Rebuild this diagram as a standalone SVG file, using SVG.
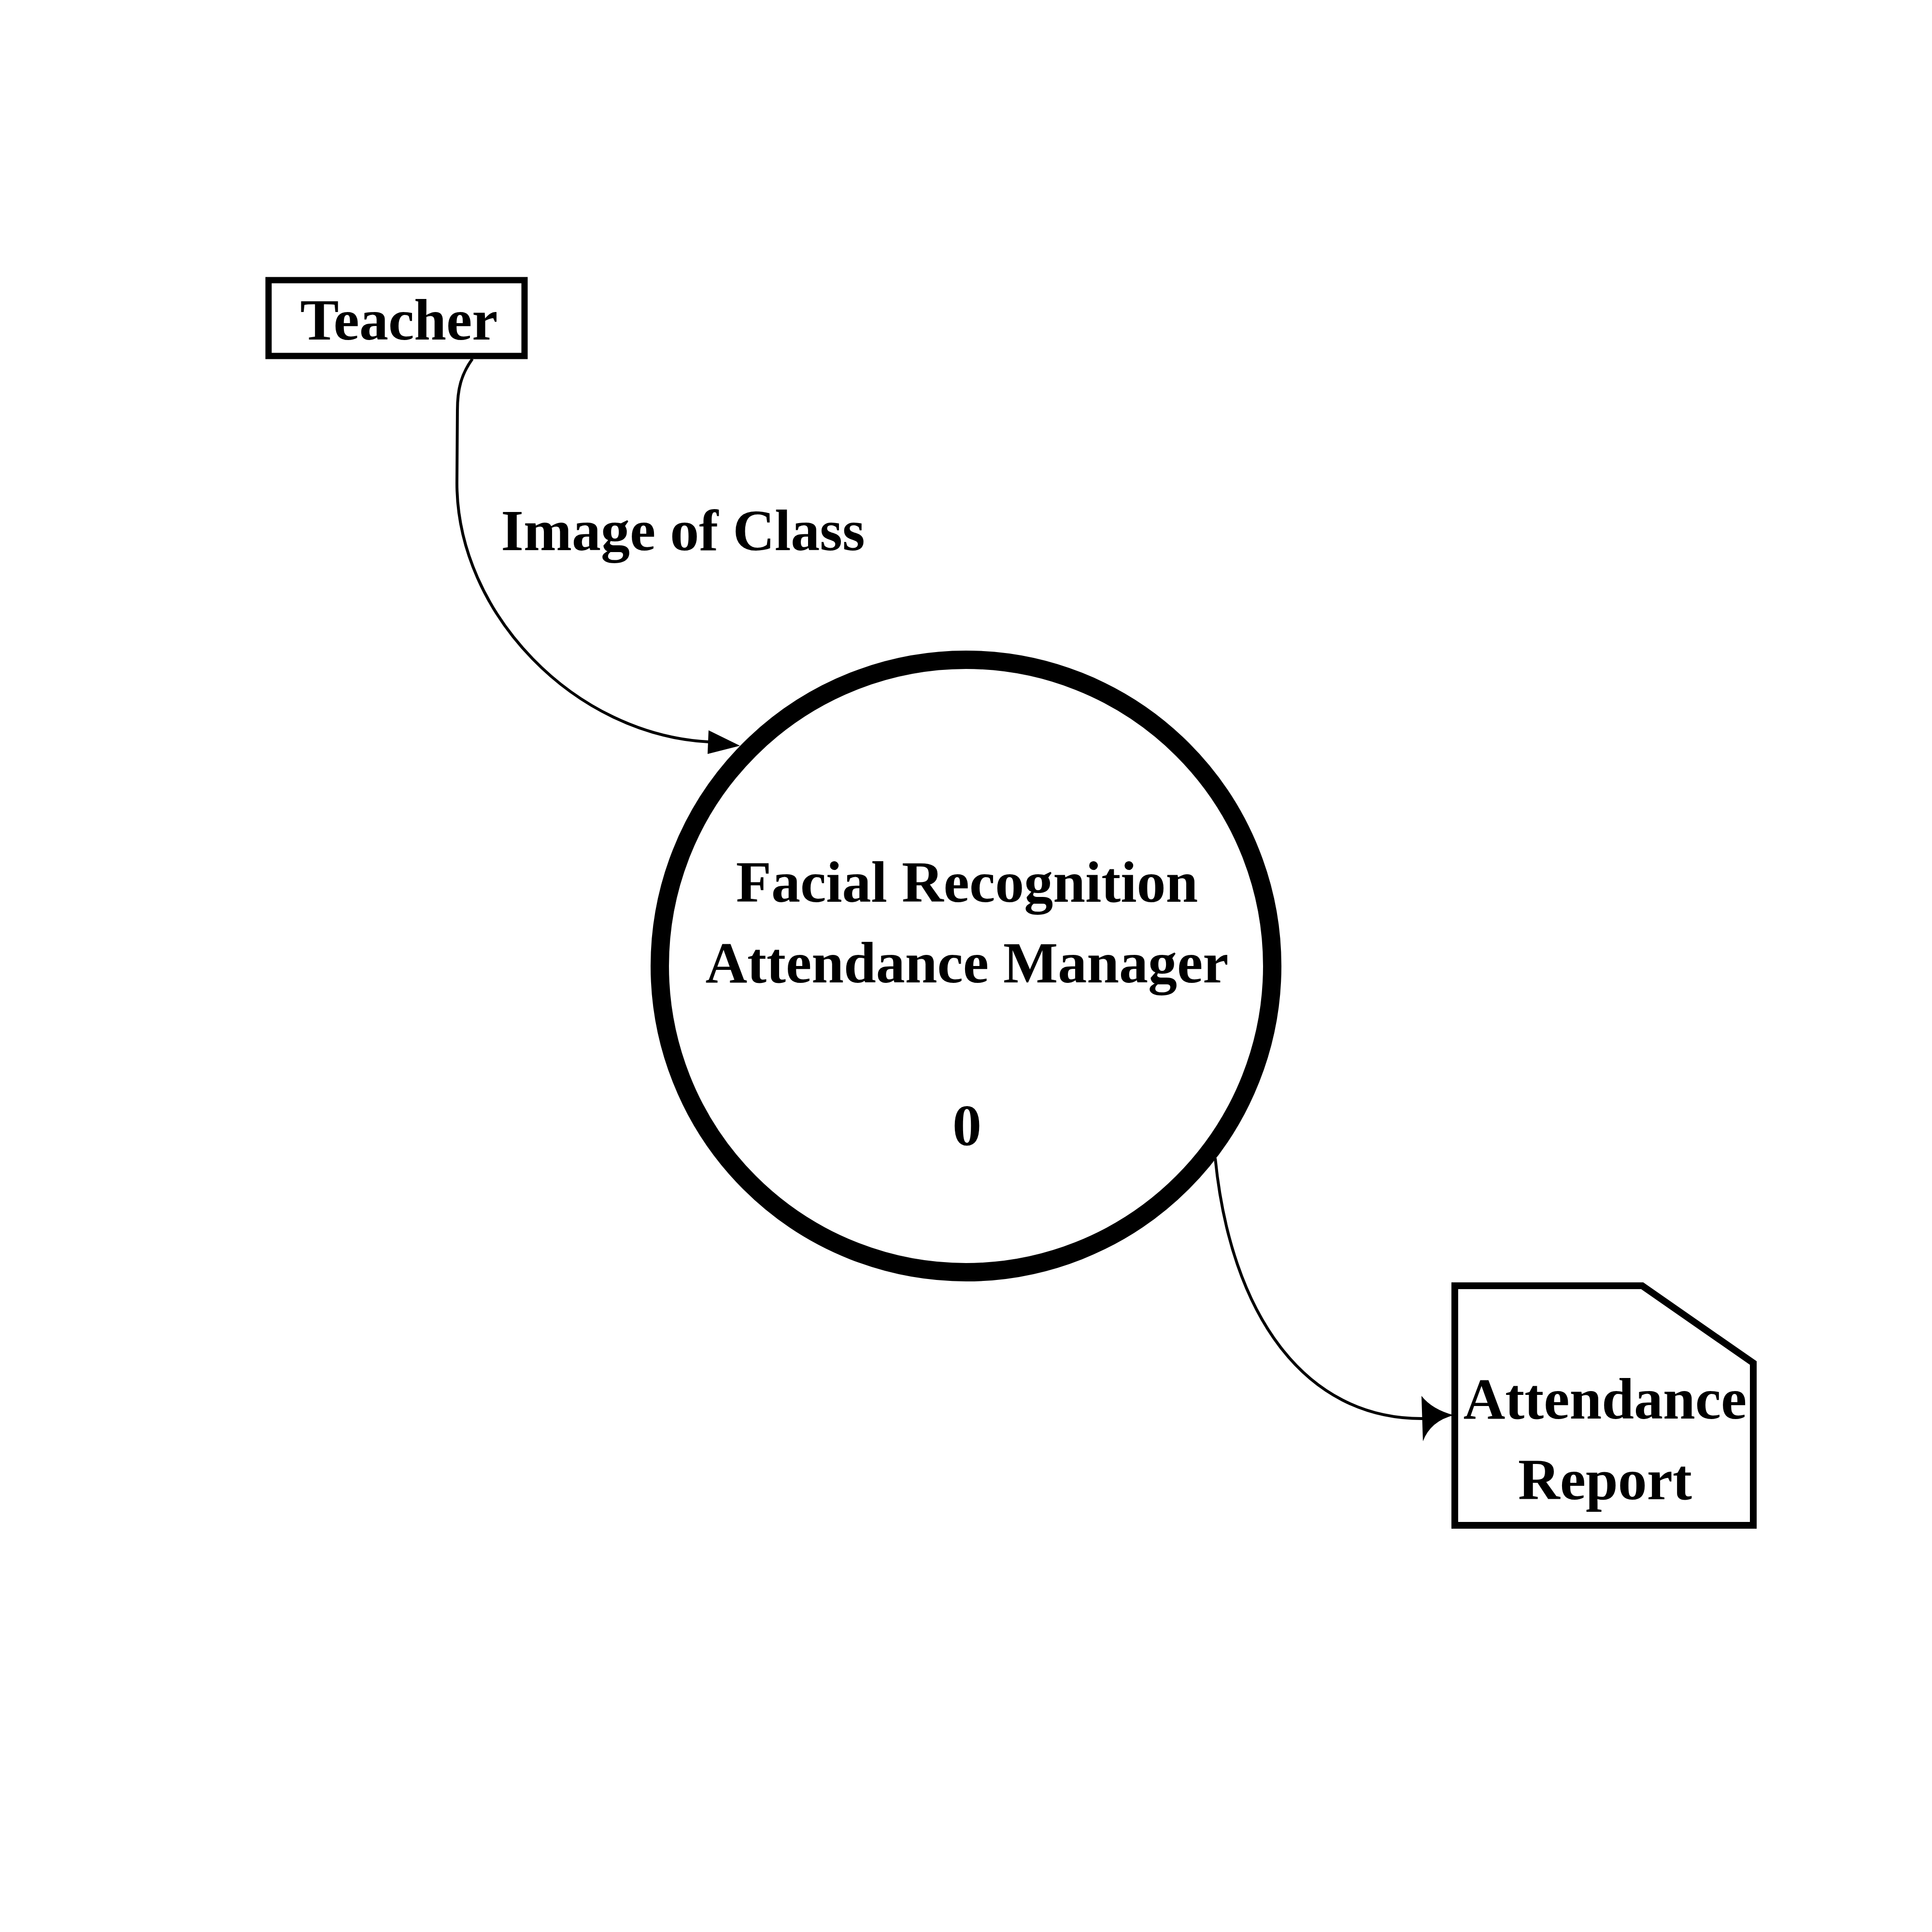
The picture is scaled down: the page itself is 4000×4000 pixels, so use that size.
<svg xmlns="http://www.w3.org/2000/svg" width="4000" height="4000" viewBox="0 0 4000 4000">
<style>
.lbl{font-family:"Liberation Serif","Times New Roman",serif;font-weight:bold;font-size:120px;fill:#000;text-anchor:middle}
.edge{fill:none;stroke:#000;stroke-width:6}
.head{fill:#000;stroke:none}
</style>
<rect width="4000" height="4000" fill="#fff"/>
<g id="connectors">
<path class="edge" d="M978,743 C955,775 947,805 947,850 L946,1000 C946,1270 1190,1522 1468,1536"/>
<polygon class="head" points="1532,1544 1467,1512 1465,1561"/>
<path class="edge" d="M2516,2398 C2548,2720 2700,2938 2945,2937"/>
<path class="head" d="M3010,2930 Q2965,2918 2943,2890 L2946,2984 Q2962,2942 3010,2930 Z"/>
</g>
<g id="teacher">
<rect x="556" y="580" width="530" height="157" fill="#fff" stroke="#000" stroke-width="13"/>
<text class="lbl" x="826" y="703">Teacher</text>
</g>
<g id="process0">
<circle cx="2000" cy="2000" r="634" fill="#fff" stroke="#000" stroke-width="38"/>
<text class="lbl" x="2002" y="1867">Facial Recognition</text>
<text class="lbl" x="2002" y="2034">Attendance Manager</text>
<text class="lbl" x="2002" y="2371">0</text>
</g>
<g id="report">
<path d="M3012,2662 L3400,2662 L3630,2822 L3630,3158 L3012,3158 Z" fill="#fff" stroke="#000" stroke-width="14"/>
<text class="lbl" x="3323" y="2937">Attendance</text>
<text class="lbl" x="3323" y="3104">Report</text>
</g>
<g id="flow-label">
<text class="lbl" x="1414" y="1139">Image of Class</text>
</g>
</svg>
